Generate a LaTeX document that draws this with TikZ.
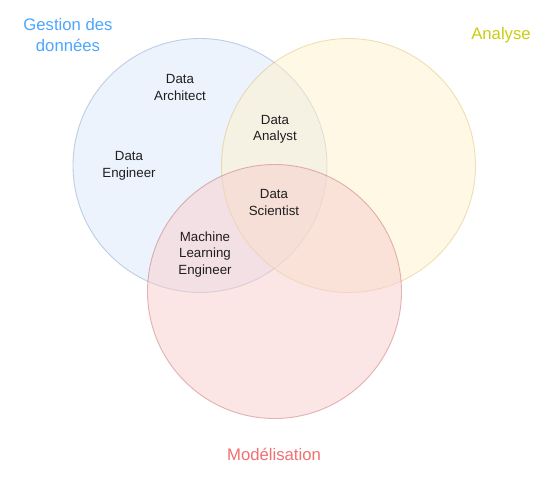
\documentclass[tikz,border=0pt]{standalone}
\usepackage{fontspec}
\setmainfont{Liberation Sans}
\begin{document}
\begin{tikzpicture}[x=1pt,y=-1pt,
  setcircle/.style={circle, draw opacity=0.4, fill opacity=0.5, line width=0.9pt, minimum size=254pt, inner sep=0pt},
  role/.style={align=center, font=\fontsize{13.3}{16.5}\selectfont, text=black!88},
  setlabel/.style={align=center, font=\fontsize{16.7}{20.5}\selectfont}]
\useasboundingbox[fill=white] (0,0) rectangle (557,491);
\definecolor{bfill}{HTML}{DAE8FC}\definecolor{bline}{HTML}{6C8EBF}
\definecolor{yfill}{HTML}{FFF2CC}\definecolor{yline}{HTML}{D6B656}
\definecolor{rfill}{HTML}{F8CECC}\definecolor{rline}{HTML}{B85450}
\definecolor{lblue}{HTML}{4DA6FF}\definecolor{lyellow}{HTML}{CCCC11}\definecolor{lred}{HTML}{F27070}
\node[setcircle, fill=bfill, draw=bline] (blue) at (200,165.5) {};
\node[setcircle, fill=yfill, draw=yline] (yellow) at (348.5,165.5) {};
\node[setcircle, fill=rfill, draw=rline] (red) at (274.5,291.5) {};
\node[setlabel, text=lblue] (lgest) at (68,35) {Gestion des\\données};
\node[setlabel, text=lyellow] (lana) at (501,35) {Analyse};
\node[setlabel, text=lred] (lmod) at (274,454) {Modélisation};
\node[role] (arch) at (180,87.5) {Data\\Architect};
\node[role] (eng) at (129,166) {Data\\Engineer};
\node[role] (ana) at (275,129.5) {Data\\Analyst};
\node[role] (sci) at (274,202.5) {Data\\Scientist};
\node[role] (mle) at (205,254.5) {Machine\\Learning\\Engineer};
\end{tikzpicture}
\end{document}
